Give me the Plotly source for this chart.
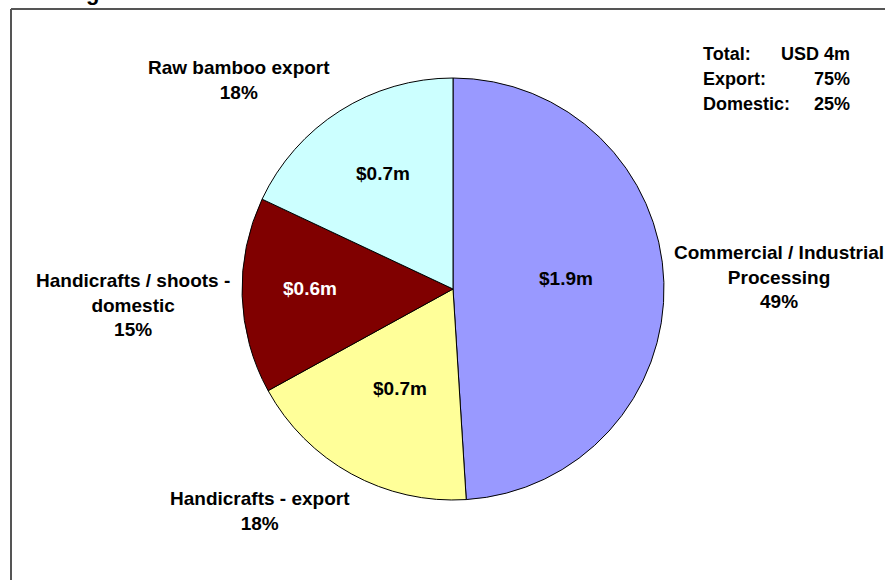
import plotly.graph_objects as go

# ---- data ----
categories = ["Commercial / Industrial Processing", "Handicrafts - export",
              "Handicrafts / shoots - domestic", "Raw bamboo export"]
values_musd = [1.9, 0.7, 0.6, 0.7]
shares_pct = [49, 18, 15, 18]
value_labels = ["$1.9m", "$0.7m", "$0.6m", "$0.7m"]
outside_labels = ["Commercial / Industrial<br>Processing",
                  "Handicrafts - export",
                  "Handicrafts / shoots -<br>domestic",
                  "Raw bamboo export"]
summary_labels = ["Total:", "Export:", "Domestic:"]
summary_values = ["USD 4m", "75%", "25%"]

# ---- style ----
W, H = 885, 580
colors = ["#9999FF", "#FFFF99", "#800000", "#CCFFFF"]
text_colors = ["black", "black", "white", "black"]
FONT = "Liberation Sans, Arial, sans-serif"

cx, cy, r = 453, 289, 211
dom_x = [(cx - r) / W, (cx + r) / W]
dom_y = [(H - cy - r) / H, (H - cy + r) / H]

fig = go.Figure(go.Pie(
    labels=categories,
    values=shares_pct,
    customdata=values_musd,
    textinfo="none",
    marker=dict(colors=colors, line=dict(color="black", width=1)),
    sort=False,
    direction="clockwise",
    rotation=0,
    showlegend=False,
    hovertemplate="%{label}<br>$%{customdata}m (%{percent})<extra></extra>",
    domain=dict(x=dom_x, y=dom_y),
))

def px(x):
    return x / W

def py(y):
    return 1 - y / H

annotations = []

# in-slice value labels (pixel centres)
value_pos = [(566, 278), (400, 388), (310, 288), (383, 173)]
for txt, col, (vx, vy) in zip(value_labels, text_colors, value_pos):
    annotations.append(dict(
        x=px(vx), y=py(vy), xref="paper", yref="paper",
        xanchor="center", yanchor="middle", text=txt, showarrow=False,
        font=dict(family=FONT, size=19, color=col, weight="bold"),
    ))

# outside labels: (center x, first-line centre y) in pixels
label_pos = [(779, 252), (260, 498), (133, 280), (239, 67)]
for name, pct, (lx, ly) in zip(outside_labels, shares_pct, label_pos):
    annotations.append(dict(
        x=px(lx), y=py(ly - 12), xref="paper", yref="paper",
        xanchor="center", yanchor="top", align="center",
        text=f"{name}<br>{pct}%", showarrow=False,
        font=dict(family=FONT, size=19, color="black", weight="bold"),
    ))

for i, (lab, val) in enumerate(zip(summary_labels, summary_values)):
    yy = 54 + i * 25
    annotations.append(dict(x=px(701), y=py(yy), xref="paper", yref="paper",
                            xanchor="left", yanchor="middle", text=lab, showarrow=False,
                            font=dict(family=FONT, size=18, color="black", weight="bold")))
    annotations.append(dict(x=px(852), y=py(yy), xref="paper", yref="paper",
                            xanchor="right", yanchor="middle", text=val, showarrow=False,
                            font=dict(family=FONT, size=18, color="black", weight="bold")))

# clipped title remnant at top-left (partly off the page, as in the reference)
annotations.append(dict(x=px(92), y=py(-7), xref="paper", yref="paper",
                        xanchor="center", yanchor="middle", text="g", showarrow=False,
                        font=dict(family=FONT, size=22, color="black", weight="bold")))

shapes = [
    dict(type="line", xref="paper", yref="paper", x0=px(11), x1=1, y0=py(9), y1=py(9),
         line=dict(color="#555555", width=2)),
    dict(type="line", xref="paper", yref="paper", x0=px(11), x1=px(11), y0=0, y1=py(9),
         line=dict(color="#555555", width=2)),
]

fig.update_layout(
    width=W, height=H,
    margin=dict(l=0, r=0, t=0, b=0),
    paper_bgcolor="white", plot_bgcolor="white",
    annotations=annotations, shapes=shapes,
    font=dict(family=FONT),
)

fig.write_html("out.html")
